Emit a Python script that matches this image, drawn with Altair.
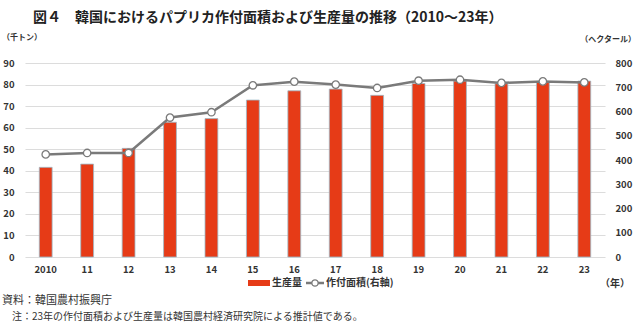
import altair as alt
import pandas as pd

years = ["2010", "11", "12", "13", "14", "15", "16", "17", "18", "19", "20", "21", "22", "23"]
production = [41.6, 43.1, 50.4, 62.5, 64.2, 72.8, 77.1, 77.9, 75.0, 80.5, 81.6, 80.4, 81.0, 81.6]
area = [423, 429, 429, 575, 597, 708, 723, 711, 697, 727, 731, 718, 724, 720]

title_text = "図４　韓国におけるパプリカ作付面積および生産量の推移（2010～23年）"
left_unit = "（千トン）"
right_unit = "（ヘクタール）"
x_unit = "（年）"
legend_bar = "生産量"
legend_line = "作付面積(右軸)"
source_text = "資料：韓国農村振興庁"
note_text = "注：23年の作付面積および生産量は韓国農村経済研究院による推計値である。"

df = pd.DataFrame({"year": years, "production": production, "area": area})

FONT = "Noto Sans CJK JP"
BAR = "#E63B17"
LINE = "#7A7A7A"
TXT = "#333333"

xenc = alt.X("year:N", sort=years, title=None,
             scale=alt.Scale(paddingInner=0.69, paddingOuter=0.345),
             axis=alt.Axis(labelAngle=0, ticks=False, domain=False, labelPadding=7,
                           labelFontSize=9.5, labelColor=TXT, labelFont=FONT, labelFontWeight="bold"))

bars = alt.Chart(df).mark_bar(color=BAR, stroke="#9DBBC9", strokeWidth=0.8).encode(
    x=xenc,
    y=alt.Y("production:Q", title=None,
            scale=alt.Scale(domain=[0, 90], nice=False),
            axis=alt.Axis(values=list(range(0, 91, 10)), ticks=False, domain=False,
                          labelPadding=11, labelFontSize=9.5, labelColor=TXT, labelFont=FONT,
                          labelFontWeight="bold", gridColor="#DCDCDC", gridWidth=1.2)),
)

line = alt.Chart(df).mark_line(color=LINE, strokeWidth=2.5,
                               point=alt.OverlayMarkDef(filled=True, fill="white", stroke=LINE,
                                                        strokeWidth=1.3, size=55, opacity=1)).encode(
    x=alt.X("year:N", sort=years),
    y=alt.Y("area:Q", title=None,
            scale=alt.Scale(domain=[0, 800], nice=False),
            axis=alt.Axis(orient="right", values=list(range(0, 801, 100)), ticks=False, domain=False,
                          grid=False, labelPadding=10, labelFontSize=9.5, labelColor=TXT,
                          labelFont=FONT, labelFontWeight="bold")),
)

one = pd.DataFrame({"a": [0]})

def txt(s, x, y, size=9.5, weight="bold", align="left"):
    return alt.Chart(one).mark_text(text=s, font=FONT, fontSize=size, fontWeight=weight,
                                    color=TXT, align=align, baseline="middle").encode(
        x=alt.value(x), y=alt.value(y))

OX, OY = 25, 63
title = alt.Chart(one).mark_text(text=title_text, font=FONT, fontSize=14, fontWeight="bold",
                                 color="#222222", align="left", baseline="middle").encode(
    x=alt.value(33 - OX), y=alt.value(18 - OY))

texts = [
    txt(left_unit, 2 - OX, 38 - OY, 8),
    txt(right_unit, 636 - OX, 40 - OY, 8, align="right"),
    txt(x_unit, 600 - OX, 284 - OY, 10),
    txt(legend_bar, 272 - OX, 283 - OY, 10),
    txt(legend_line, 326 - OX, 283 - OY, 10),
    txt(source_text, 2 - OX, 301 - OY, 11, "normal"),
    txt(note_text, 12 - OX, 317 - OY, 10, "normal"),
]

leg_rect = alt.Chart(one).mark_rect(color=BAR).encode(
    x=alt.value(248 - OX), x2=alt.value(270 - OX), y=alt.value(280 - OY), y2=alt.value(286 - OY))
leg_line = alt.Chart(one).mark_rule(color=LINE, strokeWidth=2.5).encode(
    x=alt.value(306 - OX), x2=alt.value(324 - OX), y=alt.value(283 - OY))
leg_pt = alt.Chart(one).mark_point(filled=True, fill="white", stroke=LINE, strokeWidth=1.3,
                                   size=40, opacity=1).encode(
    x=alt.value(315 - OX), y=alt.value(283 - OY))

chart = alt.layer(bars, line, title, *texts, leg_rect, leg_line, leg_pt).resolve_scale(
    y="independent"
).properties(
    width=580, height=194,
    autosize=alt.AutoSizeParams(type="none"),
    padding={"left": OX, "top": OY, "right": 640 - OX - 580, "bottom": 325 - OY - 194},
    background="white",
).configure_view(stroke=None)

chart.save("out.html", embed_options={"renderer": "svg", "actions": False})
